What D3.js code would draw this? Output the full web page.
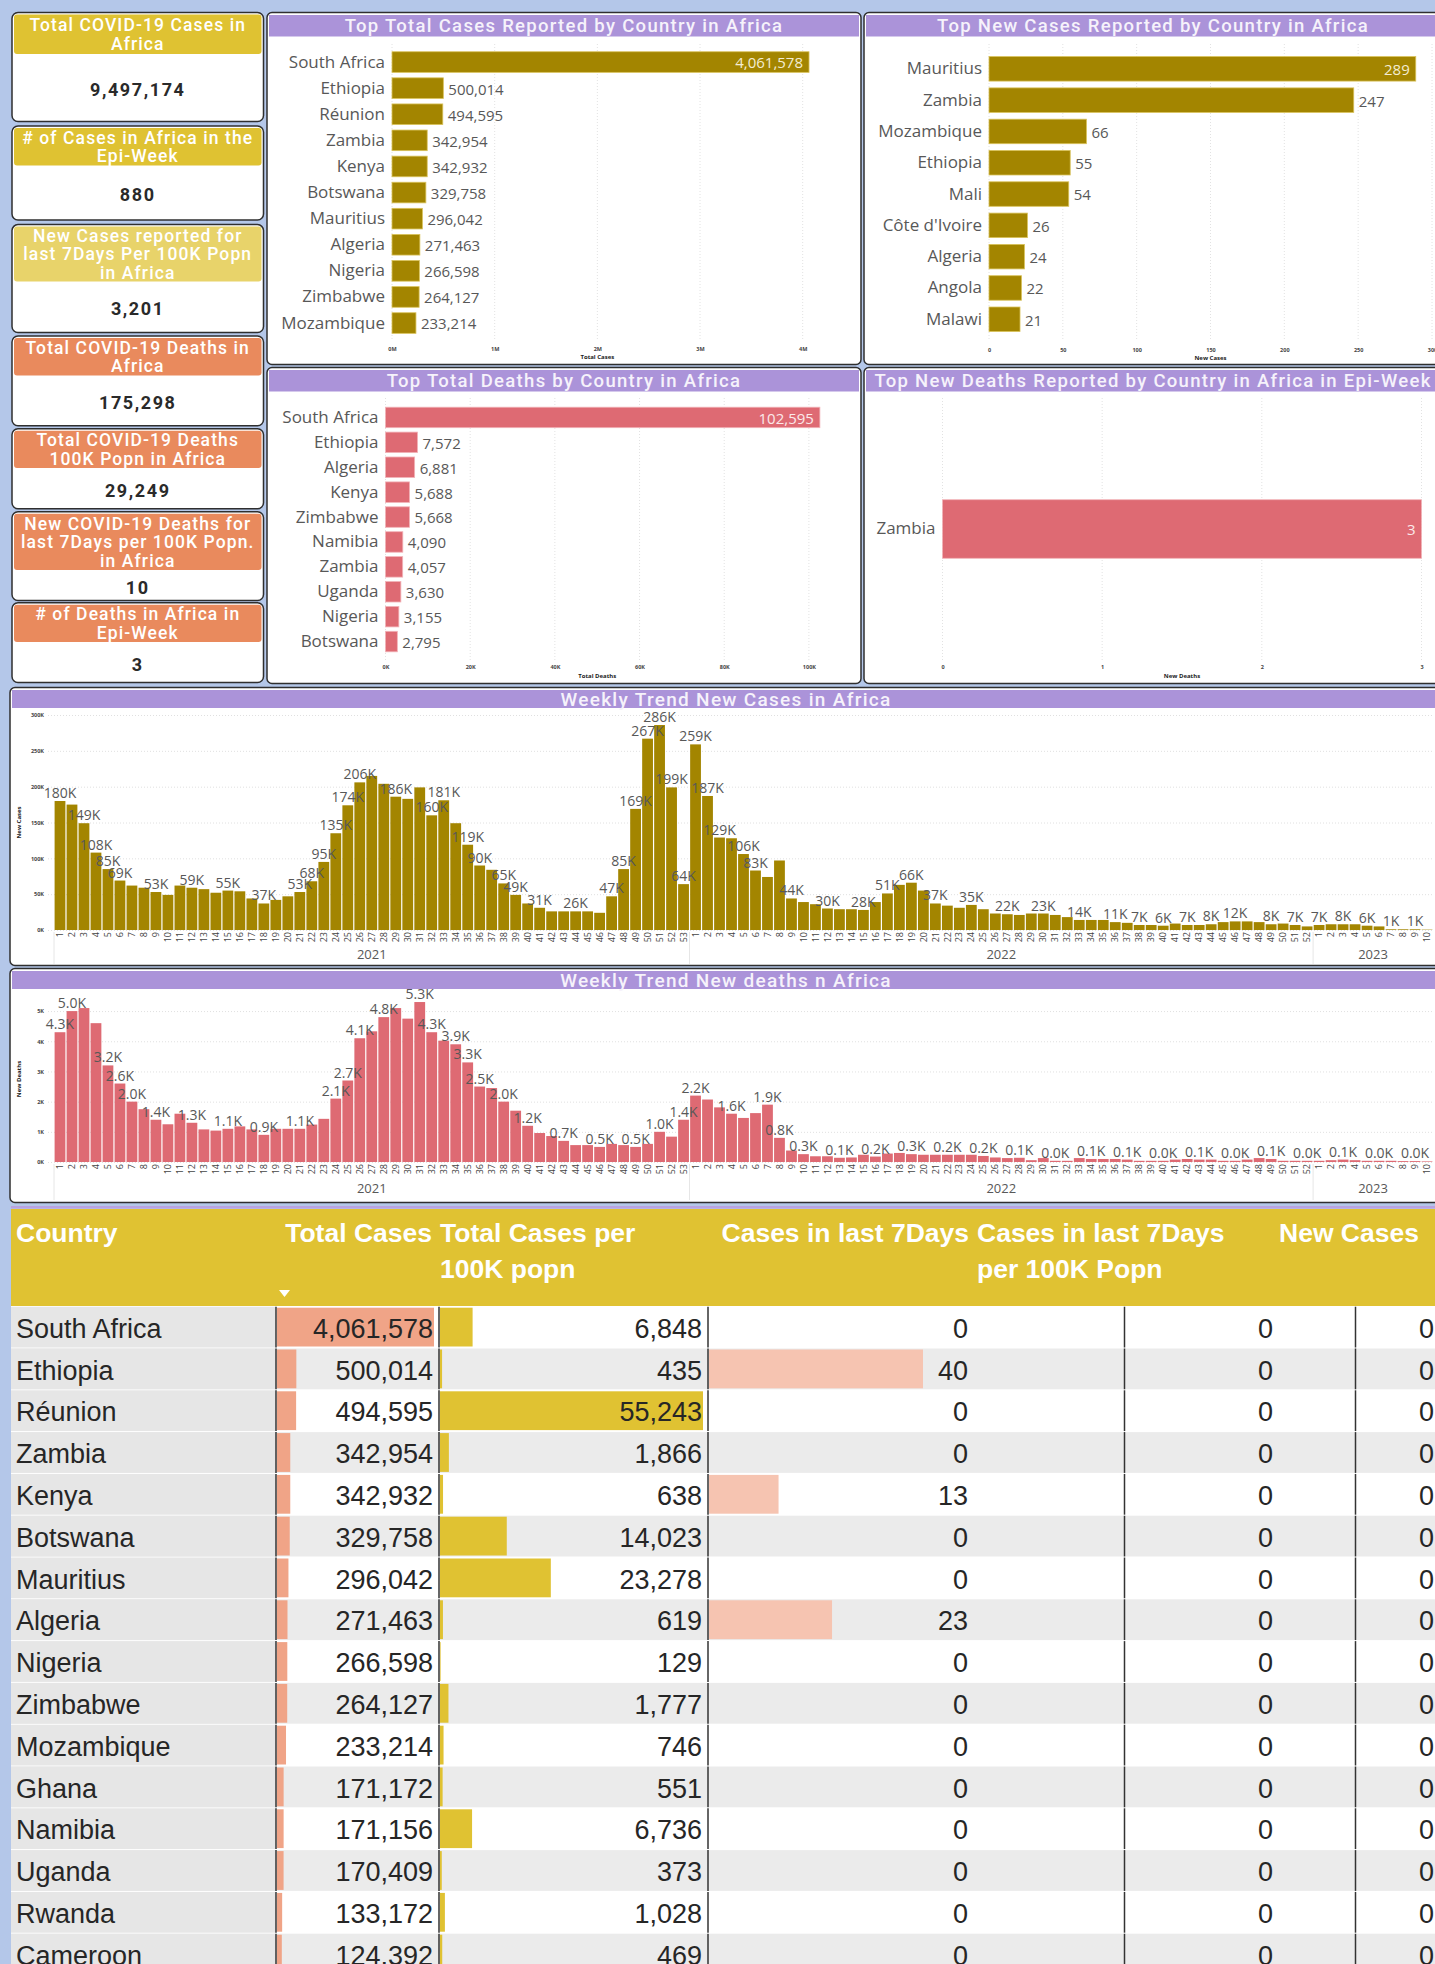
<!DOCTYPE html>
<html>
<head>
<meta charset="utf-8">
<title>COVID-19 Africa</title>
<script src="https://cdn.jsdelivr.net/npm/d3@7"></script>
<style>
  body { margin: 0; background: #b4c7e9; overflow: hidden; }
  svg { display: block; }
</style>
</head>
<body>
<script>
// ---------- data ----------
var kpiTitles = [
    ["Total COVID-19 Cases in", "Africa"],
    ["# of Cases in Africa in the", "Epi-Week"],
    ["New Cases reported for", "last 7Days Per 100K Popn", "in Africa"],
    ["Total COVID-19 Deaths in", "Africa"],
    ["Total COVID-19 Deaths", "100K Popn in Africa"],
    ["New COVID-19 Deaths for", "last 7Days per 100K Popn.", "in Africa"],
    ["# of Deaths in Africa in", "Epi-Week"]
];
var kpiValues = [9497174, 880, 3201, 175298, 29249, 10, 3];

var topCaseCountries = ["South Africa", "Ethiopia", "Réunion", "Zambia", "Kenya", "Botswana", "Mauritius", "Algeria", "Nigeria", "Zimbabwe", "Mozambique"];
var topCaseValues = [4061578, 500014, 494595, 342954, 342932, 329758, 296042, 271463, 266598, 264127, 233214];

var newCaseCountries = ["Mauritius", "Zambia", "Mozambique", "Ethiopia", "Mali", "Côte d'Ivoire", "Algeria", "Angola", "Malawi"];
var newCaseValues = [289, 247, 66, 55, 54, 26, 24, 22, 21];

var deathCountries = ["South Africa", "Ethiopia", "Algeria", "Kenya", "Zimbabwe", "Namibia", "Zambia", "Uganda", "Nigeria", "Botswana"];
var deathValues = [102595, 7572, 6881, 5688, 5668, 4090, 4057, 3630, 3155, 2795];

var newDeathCountries = ["Zambia"];
var newDeathValues = [3];

// weekly series, thousands
var years = ["2021", "2022", "2023"];
var weeklyCases2021 = [180, 175, 149, 108, 85, 69, 62, 59, 53, 49, 62, 59, 57, 52, 55, 54, 44, 37, 42, 47, 53, 68, 95, 135, 174, 206, 215, 204, 186, 183, 199, 160, 181, 149, 119, 90, 84, 65, 49, 37, 31, 26, 26, 26, 26, 24, 47, 85, 169, 267, 286, 199, 64];
var weeklyCases2022 = [259, 187, 129, 128, 106, 83, 74, 97, 44, 39, 36, 30, 29, 29, 28, 39, 51, 63, 66, 55, 37, 34, 31, 35, 29, 23, 22, 21, 23, 23, 21, 18, 14, 14, 14, 11, 10, 7, 7, 6, 9, 7, 7, 8, 11, 12, 12, 11, 8, 9, 7, 5];
var weeklyCases2023 = [7, 8, 8, 8, 6, 5, 1, 1, 1, 0.5];
var casesLabelWeeks = {
    "2021": [1, 3, 4, 5, 6, 9, 12, 15, 18, 21, 22, 23, 24, 25, 26, 29, 32, 33, 35, 36, 38, 39, 41, 44, 47, 48, 49, 50, 51, 52, 53],
    "2022": [1, 2, 3, 5, 6, 9, 12, 15, 17, 19, 21, 24, 27, 30, 33, 36, 38, 40, 42, 44, 46, 49, 51],
    "2023": [1, 3, 5, 7, 9]
};

var weeklyDeaths2021 = [4.3, 5.0, 5.1, 4.6, 3.2, 2.6, 2.0, 1.75, 1.4, 1.25, 1.6, 1.3, 1.08, 1.04, 1.1, 1.18, 1.08, 0.9, 1.1, 1.1, 1.1, 1.24, 1.43, 2.1, 2.7, 4.1, 4.33, 4.8, 5.1, 4.75, 5.3, 4.3, 4.02, 3.9, 3.3, 2.5, 2.45, 2.0, 1.7, 1.2, 0.96, 0.86, 0.7, 0.56, 0.56, 0.5, 0.6, 0.56, 0.5, 0.6, 1.0, 0.84, 1.4];
var weeklyDeaths2022 = [2.2, 2.07, 1.81, 1.6, 1.46, 1.62, 1.9, 0.8, 0.38, 0.26, 0.19, 0.19, 0.14, 0.15, 0.24, 0.18, 0.28, 0.3, 0.26, 0.24, 0.24, 0.24, 0.24, 0.24, 0.2, 0.15, 0.13, 0.14, 0.06, 0.13, 0.04, 0.04, 0.13, 0.1, 0.1, 0.1, 0.08, 0.04, 0.04, 0.04, 0.08, 0.1, 0.08, 0.08, 0.04, 0.04, 0.08, 0.13, 0.1, 0.04, 0.04, 0.04];
var weeklyDeaths2023 = [0.04, 0.06, 0.08, 0.06, 0.04, 0.04, 0.04, 0.03, 0.03, 0.02];
var deathsLabelWeeks = {
    "2021": [1, 2, 5, 6, 7, 9, 12, 15, 18, 21, 24, 25, 26, 28, 31, 32, 34, 35, 36, 38, 40, 43, 46, 49, 51, 53],
    "2022": [1, 4, 7, 8, 10, 13, 16, 19, 22, 25, 28, 31, 34, 37, 40, 43, 46, 49, 52],
    "2023": [3, 6, 9]
};

// table
var tableHeaders = [["Country"], ["Total Cases"], ["Total Cases per", "100K popn"], ["Cases in last 7Days"], ["Cases in last 7Days", "per 100K Popn"], ["New Cases"]];
var tableCountries = ["South Africa", "Ethiopia", "Réunion", "Zambia", "Kenya", "Botswana", "Mauritius", "Algeria", "Nigeria", "Zimbabwe", "Mozambique", "Ghana", "Namibia", "Uganda", "Rwanda", "Cameroon"];
var tableTotalCases = [4061578, 500014, 494595, 342954, 342932, 329758, 296042, 271463, 266598, 264127, 233214, 171172, 171156, 170409, 133172, 124392];
var tablePer100k = [6848, 435, 55243, 1866, 638, 14023, 23278, 619, 129, 1777, 746, 551, 6736, 373, 1028, 469];
var tableLast7 = [0, 40, 0, 0, 13, 0, 0, 23, 0, 0, 0, 0, 0, 0, 0, 0];
var tableLast7Per100k = [0, 0, 0, 0, 0, 0, 0, 0, 0, 0, 0, 0, 0, 0, 0, 0];
var tableNewCases = [0, 0, 0, 0, 0, 0, 0, 0, 0, 0, 0, 0, 0, 0, 0, 0];


// ---------- global look ----------
var p = {
    width: 1435,
    height: 1964,
    bg: "#b4c7e9",
    border: "#2f2f2f",
    titleBar: "#ab93d9",
    titleText: "#f6f2fb",
    caseColor: "#a38500",
    deathColor: "#de6a73",
    grey: "#585858",
    titleFont: "Roboto, sans-serif",
    chartFont: "'Open Sans', sans-serif",
    tableFont: "'Liberation Sans', Arial, sans-serif"
};

var svg = d3.select("body").append("svg").attr("width", p.width).attr("height", p.height);
svg.append("rect").attr("width", p.width).attr("height", p.height).attr("fill", p.bg);

var fmt = d3.format(",");


// ---------- KPI cards ----------
var cardLayout = [
    {y: 12.5, h: 109, hh: 41.5, c: "#dfc232"},
    {y: 126, h: 94, hh: 39.5, c: "#dfc232"},
    {y: 224.6, h: 108, hh: 56.8, c: "#e8d36a"},
    {y: 336, h: 89.7, hh: 39.4, c: "#e98a5d"},
    {y: 428.8, h: 80, hh: 39.2, c: "#e98a5d"},
    {y: 511.8, h: 88.8, hh: 58.2, c: "#e98a5d"},
    {y: 602.8, h: 79.7, hh: 39.2, c: "#e98a5d"}
];
var cardX = 12, cardW = 251.5;

cardLayout.forEach(function(c, i) {
    var g = svg.append("g");
    g.append("rect").attr("x", cardX).attr("y", c.y).attr("width", cardW).attr("height", c.h)
        .attr("rx", 6).attr("fill", "#fff").attr("stroke", p.border).attr("stroke-width", 1.5);
    g.append("rect").attr("x", cardX + 2).attr("y", c.y + 2).attr("width", cardW - 4).attr("height", c.hh - 2)
        .attr("rx", 3).attr("fill", c.c);

    // header lines
    var lines = kpiTitles[i];
    var mid = c.y + 1 + c.hh / 2;
    lines.forEach(function(t, j) {
        g.append("text").attr("x", cardX + cardW / 2).attr("y", mid + (j - (lines.length - 1) / 2) * 18.6)
            .attr("dy", "0.36em").attr("text-anchor", "middle")
            .style("font-family", p.titleFont).style("font-weight", 500).style("font-size", "17.5px")
            .style("letter-spacing", "1.1px").attr("fill", "#fff").text(t);
    });

    // value
    g.append("text").attr("x", cardX + cardW / 2).attr("y", (c.y + c.hh + c.y + c.h) / 2 + 2)
        .attr("dy", "0.36em").attr("text-anchor", "middle")
        .style("font-family", p.titleFont).style("font-weight", 700).style("font-size", "18px")
        .style("letter-spacing", "1.6px").attr("fill", "#2a2a2a").text(fmt(kpiValues[i]));
});


// ---------- panels ----------
function panel(x, y, w, h, titleH, title, size) {
    var g = svg.append("g");
    g.append("rect").attr("x", x).attr("y", y).attr("width", w).attr("height", h)
        .attr("rx", 5).attr("fill", "#fff").attr("stroke", p.border).attr("stroke-width", 1.5);
    g.append("rect").attr("x", x + 2).attr("y", y + 2.5).attr("width", w - 4).attr("height", titleH)
        .attr("fill", p.titleBar);
    g.append("text").attr("x", x + w / 2).attr("y", y + 2.5 + titleH / 2).attr("dy", "0.36em")
        .attr("text-anchor", "middle").attr("fill", p.titleText)
        .style("font-family", p.titleFont).style("font-weight", 500).style("font-size", size + "px")
        .style("letter-spacing", "1.3px").text(title);
    return g;
}

panel(267, 12.5, 594, 352, 21.5, "Top Total Cases Reported by Country in Africa", 18.5);
panel(864, 12.5, 578, 352, 21.5, "Top New Cases Reported by Country in Africa", 18.5);
panel(267, 367.5, 594, 316, 21.5, "Top Total Deaths by Country in Africa", 18.5);
panel(864, 367.5, 578, 316, 21.5, "Top New Deaths Reported by Country in Africa in Epi-Week", 18.5);
panel(10, 687.5, 1432, 278, 18, "Weekly Trend New Cases in Africa", 19);
panel(10, 968.5, 1432, 234, 18, "Weekly Trend New deaths n Africa", 19);


// ---------- horizontal bar charts ----------
function hbarChart(cfg) {
    var x = d3.scaleLinear().domain([0, cfg.max]).range([cfg.x0, cfg.x1]);
    var y = d3.scaleBand().domain(cfg.cats).range([cfg.y0, cfg.y1])
        .paddingInner(cfg.padIn).paddingOuter(cfg.padOut);
    var g = svg.append("g");

    // dotted gridlines
    g.selectAll("line.grid").data(cfg.ticks).join("line").attr("class", "grid")
        .attr("x1", function(d) { return x(d); }).attr("x2", function(d) { return x(d); })
        .attr("y1", cfg.gridTop).attr("y2", cfg.gridBottom)
        .attr("stroke", "#e2e2e2").attr("stroke-dasharray", "1,2");

    // bars
    g.selectAll("rect.bar").data(cfg.vals).join("rect").attr("class", "bar")
        .attr("x", x(0)).attr("y", function(d, i) { return y(cfg.cats[i]); })
        .attr("width", function(d) { return x(d) - x(0); }).attr("height", y.bandwidth())
        .attr("fill", cfg.color).attr("stroke", cfg.edge).attr("stroke-width", 0.8);

    // category axis
    var ay = g.append("g").attr("transform", "translate(" + (cfg.x0 - 1) + ",0)")
        .call(d3.axisLeft(y).tickSize(0).tickPadding(6));
    ay.select(".domain").remove();
    ay.selectAll("text").style("font-family", p.chartFont).style("font-size", "17px").attr("fill", p.grey);

    // value labels
    g.selectAll("text.val").data(cfg.vals).join("text").attr("class", "val")
        .attr("x", function(d) { return x(d) > cfg.x1 - 45 ? x(d) - 6 : x(d) + 5; })
        .attr("y", function(d, i) { return y(cfg.cats[i]) + y.bandwidth() / 2 + 1; })
        .attr("dy", "0.36em")
        .attr("text-anchor", function(d) { return x(d) > cfg.x1 - 45 ? "end" : "start"; })
        .attr("fill", function(d) { return x(d) > cfg.x1 - 45 ? cfg.inside : p.grey; })
        .style("font-family", p.chartFont).style("font-size", "15px")
        .text(function(d) { return fmt(d); });

    // value axis
    var ax = g.append("g").attr("transform", "translate(0," + cfg.tickY + ")")
        .call(d3.axisBottom(x).tickValues(cfg.ticks).tickFormat(cfg.tickFmt).tickSize(0).tickPadding(0));
    ax.select(".domain").remove();
    ax.selectAll("text").style("font-family", p.chartFont).style("font-size", "5.5px").style("font-weight", 700).attr("fill", "#444");

    g.append("text").attr("x", (cfg.x0 + cfg.x1) / 2).attr("y", cfg.titleY)
        .attr("text-anchor", "middle").style("font-family", p.chartFont).style("font-size", "6px")
        .style("font-weight", 700).attr("fill", "#222").text(cfg.axisTitle);
}

hbarChart({
    cats: topCaseCountries, vals: topCaseValues, max: 4e6, x0: 392, x1: 802.7,
    ticks: [0, 1e6, 2e6, 3e6, 4e6], tickFmt: function(d) { return d / 1e6 + "M"; },
    y0: 49, y1: 336.1, padIn: 0.21, padOut: 0.105, gridTop: 44, gridBottom: 340,
    tickY: 347, titleY: 359, axisTitle: "Total Cases",
    color: p.caseColor, edge: "#d9c25a", inside: "#f4edd2"
});
hbarChart({
    cats: newCaseCountries, vals: newCaseValues, max: 300, x0: 989, x1: 1432,
    ticks: [0, 50, 100, 150, 200, 250, 300], tickFmt: function(d) { return d; },
    y0: 53.2, y1: 334.9, padIn: 0.217, padOut: 0.108, gridTop: 44, gridBottom: 340,
    tickY: 348, titleY: 360, axisTitle: "New Cases",
    color: p.caseColor, edge: "#d9c25a", inside: "#f4edd2"
});
hbarChart({
    cats: deathCountries, vals: deathValues, max: 100000, x0: 385.5, x1: 808.9,
    ticks: [0, 20000, 40000, 60000, 80000, 100000], tickFmt: function(d) { return d / 1000 + "K"; },
    y0: 405, y1: 654, padIn: 0.177, padOut: 0.088, gridTop: 398, gridBottom: 660,
    tickY: 665, titleY: 678, axisTitle: "Total Deaths",
    color: p.deathColor, edge: "#f2b3b8", inside: "#fbe9ea"
});
hbarChart({
    cats: newDeathCountries, vals: newDeathValues, max: 3, x0: 942.5, x1: 1421.5,
    ticks: [0, 1, 2, 3], tickFmt: function(d) { return d; },
    y0: 400, y1: 658, padIn: 0.63, padOut: 0.63, gridTop: 398, gridBottom: 660,
    tickY: 665, titleY: 678, axisTitle: "New Deaths",
    color: p.deathColor, edge: "#f2b3b8", inside: "#fbe9ea"
});


// ---------- weekly column charts ----------
function weeklyChart(cfg) {
    // one key per epi-week
    var rows = [];
    years.forEach(function(yr, k) {
        cfg.series[k].forEach(function(v, i) {
            rows.push({key: yr + "-" + (i + 1), year: yr, week: i + 1, value: v,
                       labelled: cfg.labels[yr].indexOf(i + 1) >= 0});
        });
    });

    var x = d3.scaleBand().domain(rows.map(function(d) { return d.key; }))
        .range([54, 1433]).paddingInner(0.1).paddingOuter(0.05);
    var y = d3.scaleLinear().domain([0, cfg.max]).range([cfg.base, cfg.top]);
    var g = svg.append("g");

    // gridlines + tiny y labels
    var gy = g.append("g").attr("transform", "translate(48,0)")
        .call(d3.axisLeft(y).tickValues(cfg.ticks).tickFormat(function(d) { return d + "K"; })
            .tickSize(-1385).tickPadding(4));
    gy.select(".domain").remove();
    gy.selectAll("line").attr("stroke", "#e0e0e0").attr("stroke-dasharray", "1,2");
    gy.selectAll("text").style("font-family", p.chartFont).style("font-size", "5.5px")
        .style("font-weight", 700).attr("fill", "#444");

    g.append("text").attr("transform", "translate(21," + ((cfg.base + cfg.top) / 2) + ") rotate(-90)")
        .attr("text-anchor", "middle").style("font-family", p.chartFont).style("font-size", "6px")
        .style("font-weight", 700).attr("fill", "#222").text(cfg.axisTitle);

    // bars
    g.selectAll("rect.bar").data(rows).join("rect").attr("class", "bar")
        .attr("x", function(d) { return x(d.key); }).attr("width", x.bandwidth())
        .attr("y", function(d) { return y(d.value); })
        .attr("height", function(d) { return y(0) - y(d.value); })
        .attr("fill", cfg.color);

    // data labels
    g.selectAll("text.lab").data(rows.filter(function(d) { return d.labelled; })).join("text")
        .attr("class", "lab")
        .attr("x", function(d) { return x(d.key) + x.bandwidth() / 2; })
        .attr("y", function(d) { return y(d.value) - 3; })
        .attr("text-anchor", "middle").attr("fill", p.grey)
        .style("font-family", p.chartFont).style("font-size", "14px")
        .text(cfg.labelFmt);

    // week numbers, rotated
    var gx = g.append("g").attr("transform", "translate(0," + cfg.base + ")")
        .call(d3.axisBottom(x).tickSize(0).tickFormat(function(k) { return k.split("-")[1]; }));
    gx.select(".domain").remove();
    gx.selectAll("text").attr("transform", "rotate(-90)").attr("text-anchor", "end")
        .attr("x", -2).attr("y", 0).attr("dy", "0.35em")
        .style("font-family", p.chartFont).style("font-size", "9px").attr("fill", "#444");

    // year labels and separators
    var step = x.step();
    years.forEach(function(yr) {
        var ks = rows.filter(function(d) { return d.year === yr; });
        var a = x(ks[0].key) - step * 0.05, b = x(ks[ks.length - 1].key) + x.bandwidth() + step * 0.05;
        g.append("line").attr("x1", a).attr("x2", a).attr("y1", cfg.base + 2).attr("y2", cfg.sepBottom)
            .attr("stroke", "#e6e6e6");
        g.append("text").attr("x", (a + b) / 2).attr("y", cfg.yearY).attr("dy", "0.36em")
            .attr("text-anchor", "middle").style("font-family", p.chartFont).style("font-size", "13px")
            .attr("fill", p.grey).text(yr);
    });
}

weeklyChart({
    series: [weeklyCases2021, weeklyCases2022, weeklyCases2023], labels: casesLabelWeeks,
    max: 300, ticks: [0, 50, 100, 150, 200, 250, 300], base: 930, top: 715,
    color: p.caseColor, axisTitle: "New Cases", yearY: 954, sepBottom: 964,
    labelFmt: function(d) { return Math.round(d.value) + "K"; }
});
weeklyChart({
    series: [weeklyDeaths2021, weeklyDeaths2022, weeklyDeaths2023], labels: deathsLabelWeeks,
    max: 5.5, ticks: [0, 1, 2, 3, 4, 5], base: 1162, top: 996,
    color: p.deathColor, axisTitle: "New Deaths", yearY: 1188, sepBottom: 1200,
    labelFmt: function(d) { return d.value.toFixed(1) + "K"; }
});


// ---------- table ----------
var tbl = svg.append("g");
var rowY = d3.scaleBand().domain(tableCountries).range([1306.7, 1306.7 + 41.8 * tableCountries.length]);

// white body behind rows, header band
tbl.append("rect").attr("x", 11).attr("y", 1306).attr("width", 1430).attr("height", 660).attr("fill", "#fff");
tbl.append("rect").attr("x", 11).attr("y", 1206).attr("width", 1430).attr("height", 2.5).attr("fill", "#b9a3e0");
tbl.append("rect").attr("x", 11).attr("y", 1209).attr("width", 1430).attr("height", 97).attr("fill", "#e0c232");

var headLayout = [
    {x: 16, anchor: "start"}, {x: 432, anchor: "end"}, {x: 440, anchor: "start"},
    {x: 969, anchor: "end"}, {x: 977, anchor: "start"}, {x: 1279, anchor: "start"}
];
tableHeaders.forEach(function(lines, i) {
    lines.forEach(function(t, j) {
        tbl.append("text").attr("x", headLayout[i].x).attr("y", 1242 + j * 36)
            .attr("text-anchor", headLayout[i].anchor).attr("fill", "#fff")
            .style("font-family", p.tableFont).style("font-weight", 700).style("font-size", "26.5px")
            .text(t);
    });
});
// sort marker
tbl.append("path").attr("d", "M279,1290 L290,1290 L284.5,1297 Z").attr("fill", "#fff");

// columns: value arrays, bar scale, placement
var cols = [
    {vals: tableTotalCases, left: 276, right: 433, barMax: 157, color: "#f0a487", axis: 276},
    {vals: tablePer100k, left: 439, right: 702, barMax: 263, color: "#e0c232", axis: 439},
    {vals: tableLast7, left: 708, right: 968, barMax: 214, color: "#f6c4b1", axis: 708},
    {vals: tableLast7Per100k, left: 975, right: 1273, barMax: 0, color: "none", axis: 1124.5},
    {vals: tableNewCases, left: 1279, right: 1434, barMax: 0, color: "none", axis: 1355.5}
];

tableCountries.forEach(function(c, r) {
    var top = rowY(c), h = rowY.bandwidth();
    var g = tbl.append("g");
    g.append("rect").attr("x", 11).attr("y", top).attr("width", 1430).attr("height", h - 1)
        .attr("fill", r % 2 ? "#ebebeb" : "#ffffff");
    g.append("rect").attr("x", 11).attr("y", top).attr("width", 265).attr("height", h - 1).attr("fill", "#e6e6e6");
    g.append("text").attr("x", 16).attr("y", top + 31).style("font-family", p.tableFont)
        .style("font-size", "27px").attr("fill", "#262626").text(c);
});

cols.forEach(function(col) {
    var bx = d3.scaleLinear().domain([0, d3.max(col.vals) || 1]).range([0, col.barMax]);
    tableCountries.forEach(function(c, r) {
        var top = rowY(c), h = rowY.bandwidth(), v = col.vals[r];
        if (col.barMax > 0 && v > 0) {
            tbl.append("rect").attr("x", col.left + 1).attr("y", top + 1).attr("width", bx(v))
                .attr("height", h - 3).attr("fill", col.color);
        }
        tbl.append("line").attr("x1", col.axis).attr("x2", col.axis).attr("y1", top).attr("y2", top + h - 1)
            .attr("stroke", "#333").attr("stroke-width", 1.5);
        tbl.append("text").attr("x", col.right).attr("y", top + 31).attr("text-anchor", "end")
            .style("font-family", p.tableFont).style("font-size", "27px").attr("fill", "#262626")
            .text(fmt(v));
    });
});
</script>
</body>
</html>
